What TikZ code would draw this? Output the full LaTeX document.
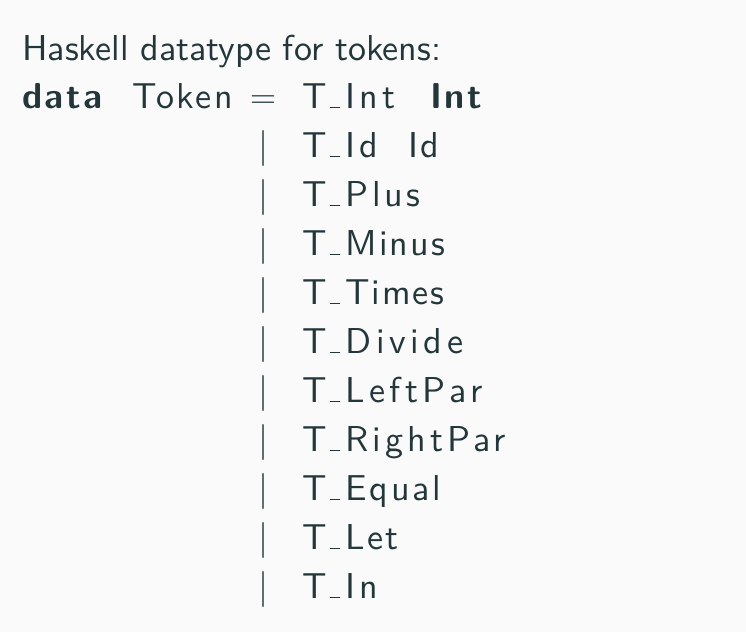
\RequirePackage{fix-cm}
\documentclass[tikz,border=0pt]{standalone}
\usepackage{fontspec}
\setsansfont{lmsans10-regular.otf}[BoldFont=lmsans10-bold.otf]
\newfontfamily\spcfont{lmsans10-regular.otf}[LetterSpace=7,BoldFont=lmsans10-bold.otf]
\newfontfamily\tkfont{lmsans10-regular.otf}
\definecolor{fg}{HTML}{23373B}
\definecolor{bg}{HTML}{FAFAFA}
\newcommand\us{\kern.1em\vbox{\hrule height 1.3pt width .28em}\kern.14em}
\newcommand\tk[2][8.5]{{\tkfont\addfontfeature{LetterSpace=#1}T\us #2}}
\tikzset{
  txt/.style={anchor=base west, inner sep=0pt, text=fg, font=\fontsize{36}{49}\selectfont\sffamily},
  sp/.style={txt, font=\fontsize{36}{49}\selectfont\spcfont},
  bar/.style={anchor=base, inner sep=0pt, text=fg, font=\fontsize{36}{49}\selectfont}
}
\begin{document}
\begin{tikzpicture}[x=1pt,y=1pt]
\fill[bg] (0,0) rectangle (746,-632);
\useasboundingbox (0,0) rectangle (746,-632);
\node[txt] (title) at (22,-60) {Haskell datatype for tokens:};
\node[sp] (data) at (22,-108) {\bfseries data};
\node[sp] (token) at (132,-108) {Token};
\node[bar] (eq) at (263,-108) {$=$};
\node[sp] (c1) at (302,-108) {\tk[12]{Int}};
\node[sp] (int) at (430,-108) {\bfseries Int};
\node[bar] (b2) at (263,-157) {$|$};
\node[sp] (c2) at (302,-157) {\tk[11]{Id}};
\node[sp] (id) at (408,-157) {Id};
\node[bar] (b3) at (263,-206) {$|$};
\node[sp] (c3) at (302,-206) {\tk[10]{Plus}};
\node[bar] (b4) at (263,-255) {$|$};
\node[sp] (c4) at (302,-255) {\tk[6]{Minus}};
\node[bar] (b5) at (263,-304) {$|$};
\node[sp] (c5) at (302,-304) {\tk[5]{Times}};
\node[bar] (b6) at (263,-353) {$|$};
\node[sp] (c6) at (302,-353) {\tk[13]{Divide}};
\node[bar] (b7) at (263,-402) {$|$};
\node[sp] (c7) at (302,-402) {\tk[12.5]{LeftPar}};
\node[bar] (b8) at (263,-451) {$|$};
\node[sp] (c8) at (302,-451) {\tk[11.3]{RightPar}};
\node[bar] (b9) at (263,-500) {$|$};
\node[sp] (c9) at (302,-500) {\tk[8]{Equal}};
\node[bar] (b10) at (263,-549) {$|$};
\node[sp] (c10) at (302,-549) {\tk[7]{Let}};
\node[bar] (b11) at (263,-598) {$|$};
\node[sp] (c11) at (302,-598) {\tk[10]{In}};
\end{tikzpicture}
\end{document}
